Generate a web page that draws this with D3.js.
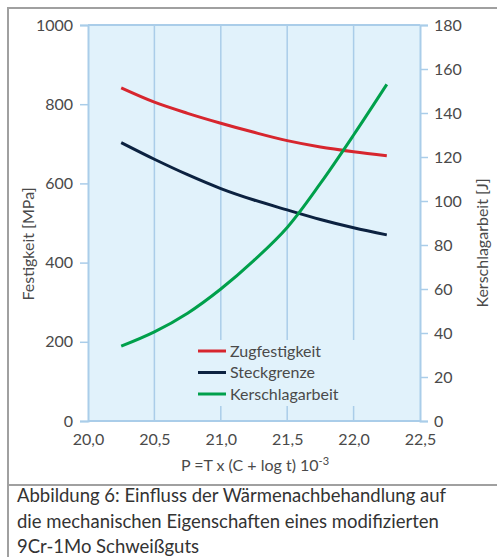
<!DOCTYPE html>
<html>
<head>
<meta charset="utf-8">
<script src="https://cdn.jsdelivr.net/npm/d3@7"></script>
<style>
  body { margin: 0; background: #fff; }
  svg { display: block; font-family: Lato, "Open Sans", sans-serif; }
</style>
</head>
<body>
<div id="chart"></div>
<script>
// P values (x axis, 10^-3)
let pValues = [20.25, 20.5, 20.75, 21.0, 21.25, 21.5, 21.75, 22.0, 22.25];
// MPa, left axis
let zugfestigkeit = [841, 805, 777, 752, 729, 708, 692, 680, 670];
let steckgrenze = [703, 661, 622, 587, 558, 533, 509, 488, 470];
// J, right axis
let kerschlagarbeit = [34, 40.5, 49, 60, 73, 88, 108, 130, 153];

let xTicks = [20.0, 20.5, 21.0, 21.5, 22.0, 22.5];
let yLeftTicks = [0, 200, 400, 600, 800, 1000];
let yRightTicks = [0, 20, 40, 60, 80, 100, 120, 140, 160, 180];
let seriesNames = ["Zugfestigkeit", "Steckgrenze", "Kerschlagarbeit"];
let captionLines = [
    "Abbildung 6: Einfluss der Wärmenachbehandlung auf",
    "die mechanischen Eigenschaften eines modifizierten",
    "9Cr-1Mo Schweißguts"
];

let W = 497, H = 557;
let plot = { left: 88, right: 420, top: 25, bottom: 421 };
let bg = "#e1f2fb", lineBlue = "#aacde9", textCol = "#4a4a4a";
let colors = ["#d7262e", "#0c2240", "#00a04b"];

let svg = d3.select("#chart").append("svg")
    .attr("width", W)
    .attr("height", H);

// frames
svg.append("rect").attr("x", 8).attr("y", 8).attr("width", 500).attr("height", 477)
    .attr("fill", "none").attr("stroke", "#a0a0a0").attr("stroke-width", 2);
svg.append("rect").attr("x", 8).attr("y", 485).attr("width", 500).attr("height", 100)
    .attr("fill", "none").attr("stroke", "#a0a0a0").attr("stroke-width", 2);

var x = d3.scaleLinear().domain([20, 22.5]).range([plot.left, plot.right]);
var yL = d3.scaleLinear().domain([0, 1000]).range([plot.bottom, plot.top]);
var yR = d3.scaleLinear().domain([0, 180]).range([plot.bottom, plot.top]);

let fmt = d3.format(".1f");
let comma = function (d) { return fmt(d).replace(".", ","); };

svg.append("rect")
    .attr("x", plot.left).attr("y", plot.top)
    .attr("width", plot.right - plot.left).attr("height", plot.bottom - plot.top)
    .attr("fill", bg);

// vertical grid lines
svg.append("g").selectAll("line")
    .data(xTicks.slice(1, -1))
    .enter().append("line")
    .attr("x1", d => x(d)).attr("x2", d => x(d))
    .attr("y1", plot.top).attr("y2", plot.bottom)
    .attr("stroke", lineBlue).attr("stroke-width", 1.5);

// axes
let axisL = svg.append("g")
    .attr("transform", "translate(" + plot.left + ",0)")
    .call(d3.axisLeft(yL).tickValues(yLeftTicks).tickFormat(d3.format("d")).tickSize(8).tickPadding(7));
let axisR = svg.append("g")
    .attr("transform", "translate(" + plot.right + ",0)")
    .call(d3.axisRight(yR).tickValues(yRightTicks).tickFormat(d3.format("d")).tickSize(8).tickPadding(6));
let axisB = svg.append("g")
    .attr("transform", "translate(0," + plot.bottom + ")")
    .call(d3.axisBottom(x).tickValues(xTicks).tickFormat(comma).tickSize(0).tickPadding(13));

[axisL, axisR, axisB].forEach(a => {
    a.select(".domain").attr("stroke", lineBlue).attr("stroke-width", 2);
    a.selectAll(".tick line").attr("stroke", lineBlue).attr("stroke-width", 1.5);
    a.selectAll(".tick text").attr("fill", textCol).style("font-size", "16px")
        .style("font-family", "Lato, sans-serif");
});
axisB.select(".domain").remove();
svg.append("line")
    .attr("x1", plot.left).attr("x2", plot.right)
    .attr("y1", plot.bottom).attr("y2", plot.bottom)
    .attr("stroke", lineBlue).attr("stroke-width", 2);
svg.append("line")
    .attr("x1", plot.left).attr("x2", plot.right)
    .attr("y1", plot.top).attr("y2", plot.top)
    .attr("stroke", lineBlue).attr("stroke-width", 2);

// curves
let lineL = d3.line().x((d, i) => x(pValues[i])).y(d => yL(d)).curve(d3.curveCatmullRom.alpha(0.5));
let lineR = d3.line().x((d, i) => x(pValues[i])).y(d => yR(d)).curve(d3.curveCatmullRom.alpha(0.5));

svg.append("path").attr("d", lineL(zugfestigkeit))
    .attr("fill", "none").attr("stroke", colors[0]).attr("stroke-width", 3);
svg.append("path").attr("d", lineL(steckgrenze))
    .attr("fill", "none").attr("stroke", colors[1]).attr("stroke-width", 3);
svg.append("path").attr("d", lineR(kerschlagarbeit))
    .attr("fill", "none").attr("stroke", colors[2]).attr("stroke-width", 3);

// legend
let lg = svg.append("g");
lg.append("rect").attr("x", 192).attr("y", 340).attr("width", 170).attr("height", 66).attr("fill", bg);
seriesNames.forEach((name, i) => {
    let yy = 351 + i * 21.5;
    lg.append("line").attr("x1", 198).attr("x2", 226).attr("y1", yy).attr("y2", yy)
        .attr("stroke", colors[i]).attr("stroke-width", 3);
    lg.append("text").attr("x", 230).attr("y", yy + 5.5)
        .attr("fill", textCol).style("font-size", "16px").text(name);
});

// axis titles
svg.append("text")
    .attr("transform", "translate(34,244) rotate(-90)")
    .attr("text-anchor", "middle").attr("fill", textCol).style("font-size", "16px")
    .text("Festigkeit [MPa]");
svg.append("text")
    .attr("transform", "translate(488,243) rotate(-90)")
    .attr("text-anchor", "middle").attr("fill", textCol).style("font-size", "16px")
    .text("Kerschlagarbeit [J]");
let xt = svg.append("text")
    .attr("x", 255).attr("y", 471)
    .attr("text-anchor", "middle").attr("fill", textCol).style("font-size", "16px");
xt.append("tspan").text("P =T x (C + log t) 10");
xt.append("tspan").attr("dy", -6).style("font-size", "11px").text("-3");

// caption
svg.append("g").selectAll("text")
    .data(captionLines)
    .enter().append("text")
    .attr("x", 17)
    .attr("y", (d, i) => 502 + i * 25.5)
    .attr("fill", "#333")
    .style("font-size", "18.5px")
    .text(d => d);
</script>
</body>
</html>
